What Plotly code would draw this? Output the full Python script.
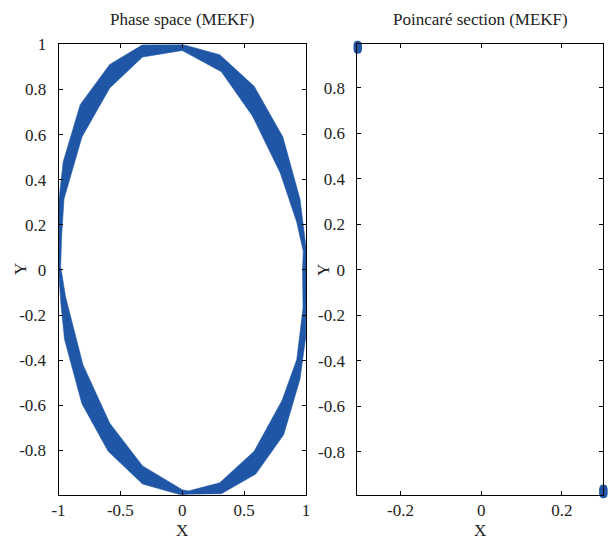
import plotly.graph_objects as go

BLUE = "#1f56a6"

# Phase-space band (MEKF): outer and inner edges of the traced orbit, clockwise
outer_x = [0.0, 0.303, 0.581, 0.813, 0.951, 1.0, 1.0, 0.998, 0.951, 0.819, 0.594, 0.316, 0.05,
           0.0, -0.321, -0.599, -0.811, -0.951, -0.98, -1.0, -1.0, -0.996, -0.962, -0.824,
           -0.586, -0.321]
outer_y = [1.0, 0.954, 0.814, 0.589, 0.314, 0.1, -0.1, -0.296, -0.485, -0.731, -0.905, -0.992,
           -0.995, -0.999, -0.949, -0.804, -0.593, -0.309, -0.155, 0.0, 0.241, 0.314, 0.48,
           0.734, 0.911, 0.998]
inner_x = [0.0, 0.316, 0.567, 0.792, 0.925, 0.978, 0.972, 0.976, 0.925, 0.806, 0.581, 0.303,
           0.05, 0.0, -0.321, -0.586, -0.803, -0.943, -0.983, -0.975, -0.956, -0.811, -0.586,
           -0.321]
inner_y = [0.973, 0.879, 0.683, 0.430, 0.212, 0.082, 0.0, -0.17, -0.398, -0.579, -0.804, -0.944,
           -0.98, -0.975, -0.869, -0.68, -0.42, -0.12, 0.015, 0.15, 0.314, 0.589, 0.807, 0.944]

# Poincaré section (MEKF) crossings
sec_x = [-0.306, -0.306, -0.306, -0.306, -0.306, -0.306,
         0.303, 0.303, 0.303, 0.303, 0.303, 0.303]
sec_y = [0.988, 0.984, 0.979, 0.975, 0.970, 0.966,
         -0.962, -0.968, -0.973, -0.978, -0.983, -0.988]

# Tick values / labels
left_xticks = [-1, -0.5, 0, 0.5, 1]
left_xlabels = ["-1", "-0.5", "0", "0.5", "1"]
yticks = [-0.8, -0.6, -0.4, -0.2, 0, 0.2, 0.4, 0.6, 0.8, 1]
ylabels = ["-0.8", "-0.6", "-0.4", "-0.2", "0", "0.2", "0.4", "0.6", "0.8", "1"]
right_xticks = [-0.2, 0, 0.2]
right_xlabels = ["-0.2", "0", "0.2"]

# Ring path: outer edge clockwise, then inner edge counter-clockwise (leaves the hole empty)
ring_x = outer_x + [outer_x[0]] + [inner_x[0]] + inner_x[::-1] + [outer_x[0]]
ring_y = outer_y + [outer_y[0]] + [inner_y[0]] + inner_y[::-1] + [outer_y[0]]

fig = go.Figure()
fig.add_trace(go.Scatter(x=ring_x, y=ring_y, mode="lines", fill="toself",
                         fillcolor=BLUE, line=dict(color=BLUE, width=0.6),
                         xaxis="x", yaxis="y", showlegend=False, hoverinfo="skip"))
fig.add_trace(go.Scatter(x=sec_x, y=sec_y, mode="markers",
                         marker=dict(color=BLUE, size=8, line=dict(width=0)),
                         cliponaxis=False, xaxis="x2", yaxis="y2", showlegend=False))

FONT = "Liberation Serif"
TXT = "#222222"
FS = 17
axis_common = dict(showline=True, linecolor="black", linewidth=1, mirror="ticks",
                   ticks="inside", ticklen=4, tickcolor="black", showgrid=False,
                   zeroline=False, tickfont=dict(family=FONT, size=FS, color=TXT))

L_DOM = [0.0856, 0.4967]
R_DOM = [0.5819, 0.9907]
Y_DOM = [0.0886, 0.9336]


def label(text, x, y, xanchor="center", yanchor="middle", angle=0, xshift=0, yshift=0):
    return dict(text=text, x=x, y=y, xref="paper", yref="paper", xanchor=xanchor,
                yanchor=yanchor, textangle=angle, xshift=xshift, yshift=yshift,
                showarrow=False, font=dict(family=FONT, size=FS, color=TXT))


fig.update_layout(
    width=613, height=542,
    margin=dict(l=0, r=0, t=0, b=0),
    paper_bgcolor="white", plot_bgcolor="white",
    font=dict(family=FONT, size=FS, color=TXT),
    xaxis=dict(domain=L_DOM, range=[-1, 1], tickmode="array",
               tickvals=left_xticks, ticktext=left_xlabels, ticklabelstandoff=0,
               anchor="y", **axis_common),
    yaxis=dict(domain=Y_DOM, range=[-0.997, 1], tickmode="array",
               tickvals=yticks, ticktext=ylabels, ticklabelstandoff=8,
               anchor="x", **axis_common),
    xaxis2=dict(domain=R_DOM, range=[-0.307, 0.303], tickmode="array",
                tickvals=right_xticks, ticktext=right_xlabels, ticklabelstandoff=0,
                anchor="y2", **axis_common),
    yaxis2=dict(domain=Y_DOM, range=[-0.99, 0.99], tickmode="array",
                tickvals=yticks, ticktext=ylabels, ticklabelstandoff=8,
                anchor="x2", **axis_common),
    annotations=[
        label("Phase space (MEKF)", sum(L_DOM) / 2, Y_DOM[1], yanchor="bottom", yshift=13),
        label("Poincaré section (MEKF)", sum(R_DOM) / 2, Y_DOM[1], yanchor="bottom", yshift=13),
        label("X", sum(L_DOM) / 2, 0, yanchor="bottom"),
        label("X", sum(R_DOM) / 2, 0, yanchor="bottom"),
        label("Y", L_DOM[0], sum(Y_DOM) / 2, angle=-90, xshift=-38),
        label("Y", R_DOM[0], sum(Y_DOM) / 2, angle=-90, xshift=-34),
    ],
)

fig.write_html("out.html")
